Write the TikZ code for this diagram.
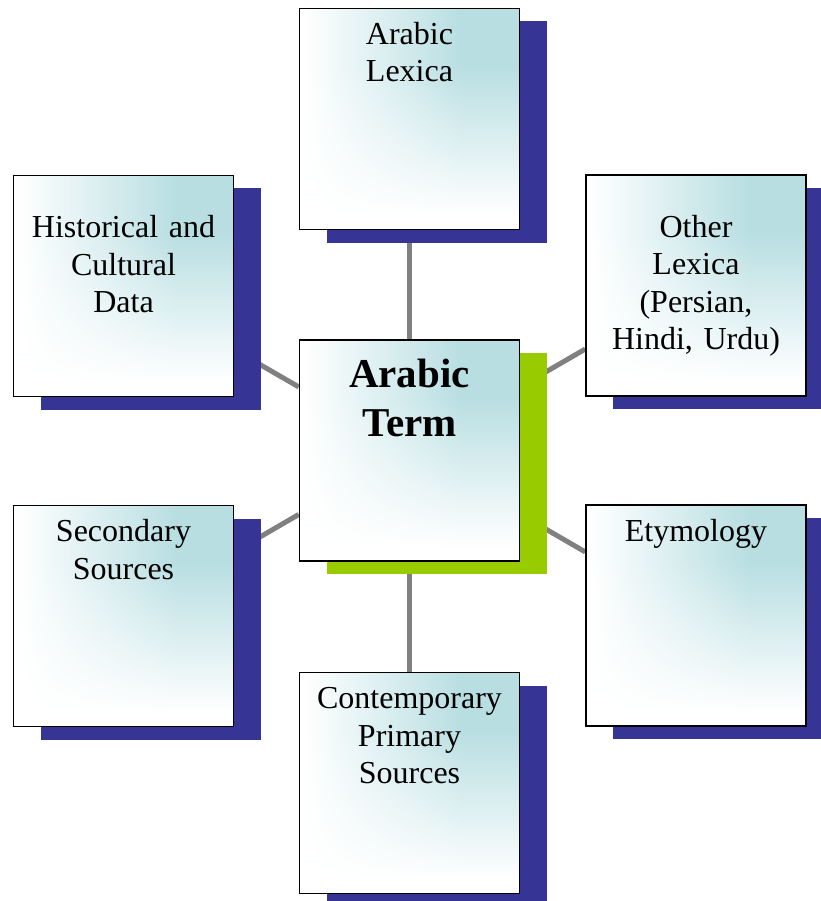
\documentclass[tikz,border=0pt]{standalone}
\usepackage{fontspec}
\setmainfont{Liberation Serif}
\usepackage{xcolor}
\usepackage{tikz}
\usetikzlibrary{positioning, shadows, backgrounds}

\definecolor{shadowblue}{RGB}{54,53,150}
\definecolor{termgreen}{RGB}{153,204,0}
\definecolor{linkgray}{RGB}{128,128,128}

% white on the left and bottom, pale teal towards the top right
\pgfdeclarefunctionalshading{boxfade}{\pgfpoint{-50bp}{-50bp}}{\pgfpoint{50bp}{50bp}}{}{
  22 add 34 div dup 0 lt {pop 0} if dup 1 gt {pop 1} if
  exch
  24 add 36 div dup 0 lt {pop 0} if dup 1 gt {pop 1} if
  mul
  dup 0.278 mul 1 exch sub exch
  dup 0.129 mul 1 exch sub exch
  0.114 mul 1 exch sub
}

\begin{document}
\begin{tikzpicture}[
    x=1pt, y=-1pt,
    box/.style={rectangle, draw=black, line width=1.5pt, shade, shading=boxfade, general shadow={fill=shadowblue, shadow xshift=27pt, shadow yshift=-13pt}, inner sep=0pt, text width=220pt, align=center, text height=36pt, text depth=185pt, font=\fontsize{32pt}{37.5pt}\selectfont},
    tallbox/.style={box, text height=62pt, text depth=159pt},
    termbox/.style={box, general shadow={fill=termgreen, shadow xshift=27pt, shadow yshift=-13pt}, text height=47pt, text depth=174pt, font=\fontsize{41pt}{49pt}\selectfont\bfseries},
    link/.style={draw=linkgray, line width=5pt}
]
\useasboundingbox (0,0) rectangle (820,901);

% Centre
\node[termbox] (term) at (409.5,450.5) {Arabic\\Term};

% Sources around it
\node[box, above=109pt of term] (lexica) {Arabic\\Lexica};
\node[box, below=110pt of term] (primary) {Contemporary\\Primary\\Sources};
\node[tallbox] (history) at (123.5,286) {Historical and\\Cultural\\Data};
\node[tallbox] (otherlex) at (696,285.5) {Other\\Lexica\\(Persian,\\Hindi, Urdu)};
\node[box] (secondary) at (123.5,616) {Secondary\\Sources};
\node[box] (etymology) at (696,615.5) {Etymology};

% Links
\begin{scope}[on background layer]
\draw[link] (term) -- (lexica);
\draw[link] (term) -- (primary);
\draw[link] (term) -- (history);
\draw[link] (term) -- (otherlex);
\draw[link] (term) -- (secondary);
\draw[link] (term) -- (etymology);
\end{scope}

\end{tikzpicture}
\end{document}
